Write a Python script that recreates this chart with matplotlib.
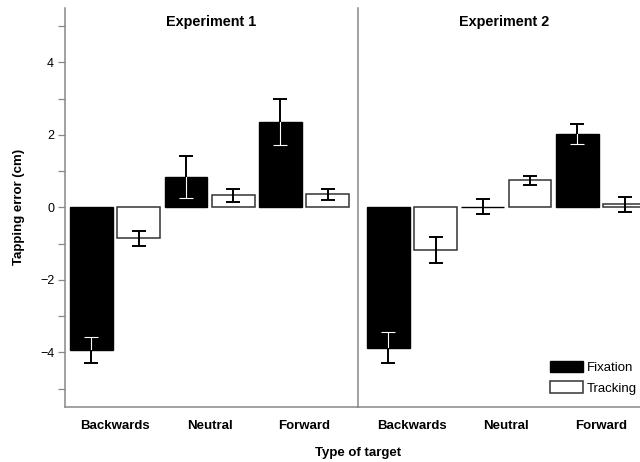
import numpy as np
import matplotlib
matplotlib.use('Agg')
import matplotlib.pyplot as plt

plt.rcParams['font.family'] = ['Liberation Sans', 'DejaVu Sans']

conditions = ['Backwards', 'Neutral', 'Forward']
titles = ['Experiment 1', 'Experiment 2']

# Fixation / Tracking means and error bars for each experiment
fix_mean = [[-3.94, 0.83, 2.35], [-3.87, 0.02, 2.03]]
fix_err = [[0.36, 0.58, 0.64], [0.43, 0.20, 0.28]]
trk_mean = [[-0.85, 0.34, 0.36], [-1.18, 0.75, 0.08]]
trk_err = [[0.21, 0.18, 0.15], [0.36, 0.12, 0.21]]

yticks = np.arange(-5, 6)
ylabels = ['' if t % 2 else ('\u2212%d' % -t if t < 0 else str(t)) for t in yticks]

gray = '#888888'
fig = plt.figure(figsize=(6.4, 4.62), dpi=100)
w = 293 / 640
b = 1 - 406.7 / 462
h = (406.7 - 8) / 462
axes = [fig.add_axes([65 / 640, b, w, h]), fig.add_axes([358 / 640, b, w, h])]
xlims = [(-0.56, 5.64), (-0.64, 5.56)]

for k, ax in enumerate(axes):
    x = np.arange(len(conditions)) * 2
    fb = ax.bar(x, fix_mean[k], 0.9, color='black', edgecolor='black', lw=1,
                label='Fixation', zorder=2)
    tb = ax.bar(x + 1, trk_mean[k], 0.9, color='white', edgecolor='#333333', lw=1.1,
                label='Tracking', zorder=2)
    ax.errorbar(x, fix_mean[k], yerr=fix_err[k], fmt='none', ecolor='black',
                elinewidth=1.4, capsize=5.3, capthick=1.4, zorder=3)
    ax.errorbar(x + 1, trk_mean[k], yerr=trk_err[k], fmt='none', ecolor='black',
                elinewidth=1.4, capsize=5.3, capthick=1.4, zorder=3)
    # white part of the error bars inside the black bars
    for i, patch in enumerate(fb.patches):
        eb = ax.errorbar(x[i], fix_mean[k][i], yerr=fix_err[k][i], fmt='none',
                         ecolor='white', elinewidth=0.8, capsize=5.0, capthick=0.8,
                         zorder=4)
        for art in list(eb.lines[1]) + list(eb.lines[2]):
            art.set_clip_path(patch)

    ax.set_xlim(*xlims[k])
    ax.set_ylim(-5.5, 5.5)
    ax.set_xticks(x + 0.5)
    ax.set_xticklabels(conditions, fontsize=9.5, fontweight='bold')
    ax.tick_params(axis='x', length=0, pad=9.5)
    ax.text(0.5, 0.965, titles[k], transform=ax.transAxes, ha='center', va='center',
            fontsize=10.4, fontweight='bold')
    for s in ['top', 'right']:
        ax.spines[s].set_visible(False)
    for s in ['left', 'bottom']:
        ax.spines[s].set_color(gray)
        ax.spines[s].set_linewidth(1.1)

axes[0].set_yticks(yticks)
axes[0].set_yticklabels(ylabels, fontsize=9)
axes[0].tick_params(axis='y', direction='out', length=4.8, width=0.9, color=gray, pad=3)
axes[1].set_yticks([])

fig.text(19 / 640, 0.5 * (b + b + h), 'Tapping error (cm)', rotation=90, ha='center',
         va='center', fontsize=9.5, fontweight='bold')
fig.text(358 / 640, 1 - 453 / 462, 'Type of target', ha='center', va='center',
         fontsize=9.5, fontweight='bold')

fig.legend(handles=[fb, tb], loc='upper left', bbox_to_anchor=(550 / 640, 1 - 361 / 462),
           frameon=False, fontsize=9.5, handlelength=2.5, handleheight=0.95,
           handletextpad=0.3, labelspacing=0.55, borderpad=0, borderaxespad=0)

fig.savefig('out.png', dpi=100)
